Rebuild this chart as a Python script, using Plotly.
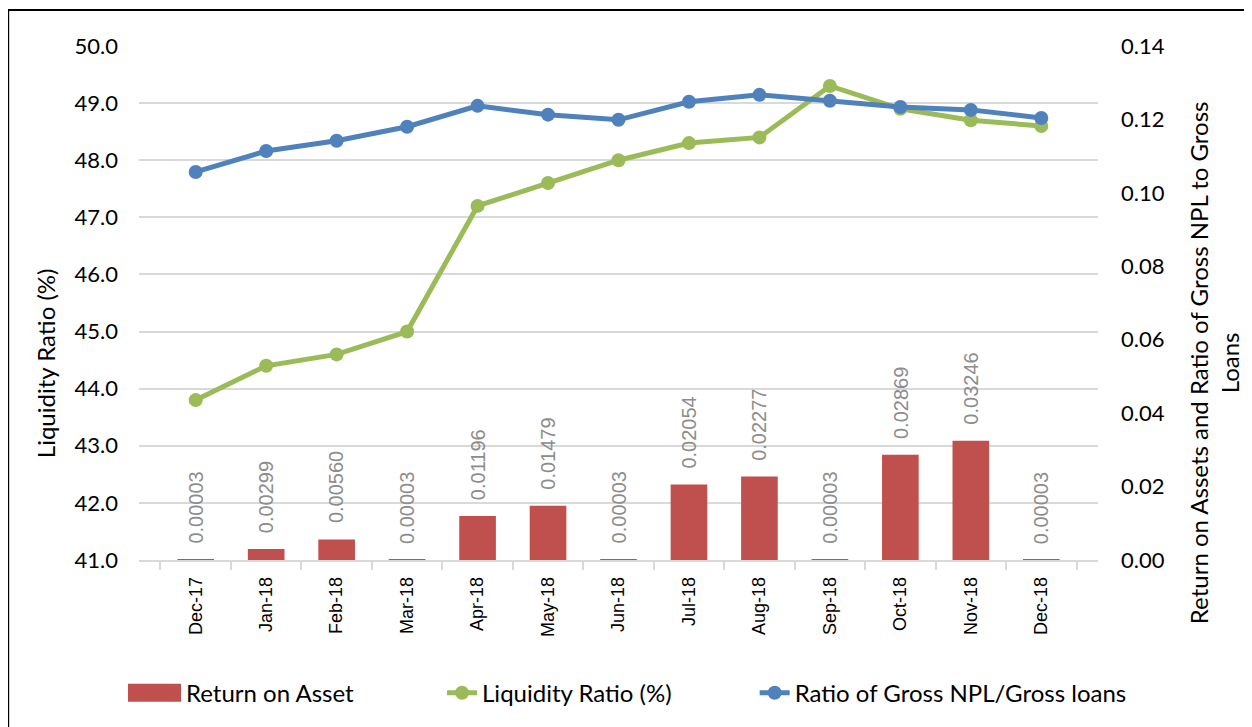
import plotly.graph_objects as go

months = ["Dec-17", "Jan-18", "Feb-18", "Mar-18", "Apr-18", "May-18", "Jun-18",
          "Jul-18", "Aug-18", "Sep-18", "Oct-18", "Nov-18", "Dec-18"]
roa = [0.00003, 0.00299, 0.00560, 0.00003, 0.01196, 0.01479, 0.00003,
       0.02054, 0.02277, 0.00003, 0.02869, 0.03246, 0.00003]
liquidity = [43.8, 44.4, 44.6, 45.0, 47.2, 47.6, 48.0, 48.3, 48.4, 49.3, 48.9, 48.7, 48.6]
npl = [0.1057, 0.1114, 0.1142, 0.1180, 0.1237, 0.1213, 0.1199,
       0.1248, 0.1267, 0.1251, 0.1234, 0.1226, 0.1204]

left_title = "Liquidity Ratio (%)"
right_title = "Return on Assets and Ratio of Gross NPL to Gross<br>Loans"

BLUE = "#4F81BD"
GREEN = "#9BBB59"
RED = "#C0504D"
FONT = "Lato"

fig = go.Figure()
fig.add_trace(go.Bar(
    x=months, y=roa, name="Return on Asset", yaxis="y2", legend="legend",
    marker=dict(color=RED, line=dict(width=0)), width=0.52,
))
fig.add_trace(go.Scatter(
    x=months, y=liquidity, name="Liquidity Ratio (%)", yaxis="y", legend="legend2",
    mode="lines+markers", line=dict(color=GREEN, width=5),
    marker=dict(color=GREEN, size=14),
))
fig.add_trace(go.Scatter(
    x=months, y=npl, name="Ratio of Gross NPL/Gross loans", yaxis="y2", legend="legend3",
    mode="lines+markers", line=dict(color=BLUE, width=5),
    marker=dict(color=BLUE, size=14),
))

annotations = [
    dict(x=m, y=v, xref="x", yref="y2", text=f"{v:.5f}", textangle=-90,
         showarrow=False, xanchor="center", yanchor="bottom", yshift=14,
         font=dict(family="Liberation Sans", size=20, color="#8c8c8c"))
    for m, v in zip(months, roa)
]
annotations.append(dict(x=-0.098, y=0.383, xref="paper", yref="paper", text=left_title,
                        textangle=-90, showarrow=False, xanchor="center", yanchor="middle",
                        font=dict(family=FONT, size=24, color="#000000")))
annotations.append(dict(x=1.121, y=0.383, xref="paper", yref="paper", text=right_title,
                        textangle=-90, showarrow=False, xanchor="center", yanchor="middle",
                        font=dict(family=FONT, size=24, color="#000000")))

leg_common = dict(orientation="h", xanchor="left", y=-0.259, yanchor="middle",
                  font=dict(family=FONT, size=24), bgcolor="rgba(0,0,0,0)")

fig.update_layout(
    width=1252, height=727,
    margin=dict(l=131, r=162, t=38, b=175, autoexpand=False),
    paper_bgcolor="white", plot_bgcolor="white",
    font=dict(family=FONT, size=21, color="#000000"),
    bargap=0.48,
    showlegend=True,
    legend=dict(x=0.0073, **leg_common),
    legend2=dict(x=0.316, **leg_common),
    legend3=dict(x=0.642, **leg_common),
    xaxis=dict(
        type="category", showgrid=False, showline=True, linecolor="#d9d9d9", linewidth=1.5,
        ticks="outside", tickson="boundaries", ticklen=8, tickcolor="#d9d9d9", tickwidth=1.5,
        tickangle=-90, tickfont=dict(family="Liberation Sans", size=18, color="#000000"),
        ticklabelstandoff=8, automargin=False,
    ),
    yaxis=dict(
        range=[41, 50], dtick=1, tickformat=".1f", showgrid=True, gridcolor="#d9d9d9",
        gridwidth=1.5, zeroline=False, showline=False, ticks="",
        tickfont=dict(size=22), ticklabelstandoff=20, automargin=False,
    ),
    yaxis2=dict(
        range=[0, 0.14], dtick=0.02, tickformat=".2f", overlaying="y", side="right",
        showgrid=False, zeroline=False, showline=False, ticks="",
        tickfont=dict(size=22), ticklabelstandoff=22, automargin=False,
    ),
    annotations=annotations,
    shapes=[
        dict(type="rect", xref="paper", yref="paper",
             x0=-0.1364, x1=1.3, y0=-0.5, y1=1.070,
             line=dict(color="black", width=2), fillcolor="rgba(0,0,0,0)", layer="below"),
        dict(type="rect", xref="paper", yref="paper",
             x0=-0.0115, x1=0.0438, y0=-0.276, y1=-0.241,
             line=dict(width=0), fillcolor=RED, layer="above"),
    ],
)

fig.write_html("out.html")
